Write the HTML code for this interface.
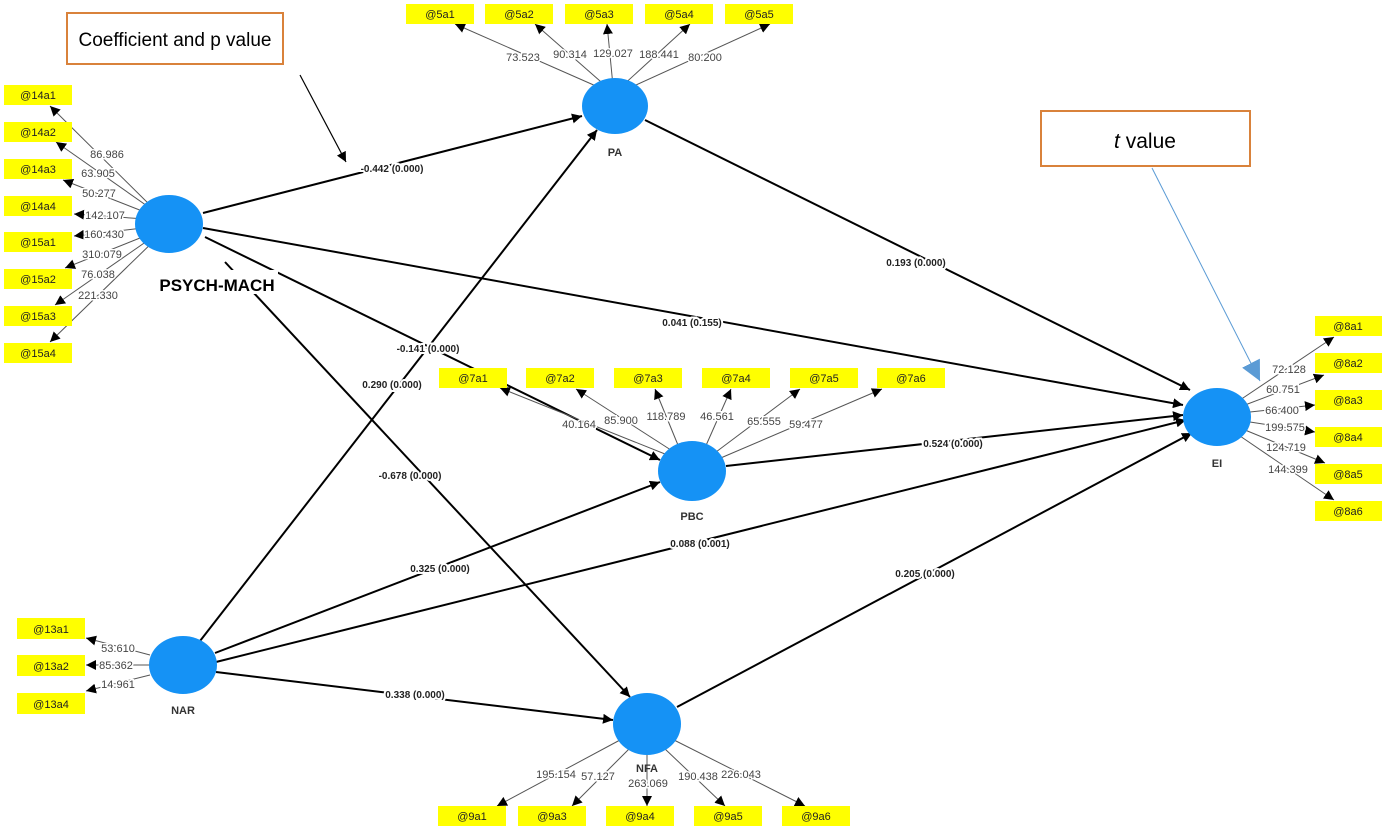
<!DOCTYPE html>
<html><head><meta charset="utf-8"><style>
html,body{margin:0;padding:0;background:#fff;}
svg{display:block;font-family:"Liberation Sans",Arial,sans-serif;}
.b{fill:#ffff00;}
.bt{font-size:11px;fill:#222;text-anchor:middle;}
.ind{stroke:#555;stroke-width:1;}
.il{font-size:11px;fill:#444;text-anchor:middle;paint-order:stroke;stroke:#fff;stroke-width:3px;}
.p{stroke:#000;stroke-width:2;}
.pl{font-size:10px;font-weight:bold;fill:#222;text-anchor:middle;paint-order:stroke;stroke:#fff;stroke-width:4px;}
.n{fill:#1592f5;}
.nl{font-size:11px;font-weight:bold;fill:#333;text-anchor:middle;}
</style></head><body>
<svg width="1382" height="827" viewBox="0 0 1382 827">
<defs>
<marker id="a" viewBox="0 0 10 10" refX="10" refY="5" markerWidth="10" markerHeight="10" markerUnits="userSpaceOnUse" orient="auto"><path d="M0,0L10,5L0,10z" fill="#000"/></marker>
<marker id="bl" viewBox="0 0 10 10" refX="10" refY="5" markerWidth="20" markerHeight="20" markerUnits="userSpaceOnUse" orient="auto"><path d="M0,0L10,5L0,10z" fill="#5b9bd5"/></marker>
</defs>

<!-- structural paths -->
<line class="p" x1="203" y1="213" x2="582" y2="116" marker-end="url(#a)"/>
<line class="p" x1="203" y1="228" x2="1183" y2="405" marker-end="url(#a)"/>
<line class="p" x1="205" y1="237" x2="660" y2="460" marker-end="url(#a)"/>
<line class="p" x1="225" y1="262" x2="630" y2="697" marker-end="url(#a)"/>
<line class="p" x1="645" y1="120" x2="1190" y2="390" marker-end="url(#a)"/>
<line class="p" x1="200" y1="641" x2="597" y2="130" marker-end="url(#a)"/>
<line class="p" x1="215" y1="653" x2="660" y2="482" marker-end="url(#a)"/>
<line class="p" x1="216" y1="662" x2="1186" y2="420" marker-end="url(#a)"/>
<line class="p" x1="216" y1="672" x2="613" y2="720" marker-end="url(#a)"/>
<line class="p" x1="726" y1="466" x2="1183" y2="415" marker-end="url(#a)"/>
<line class="p" x1="677" y1="707" x2="1192" y2="433" marker-end="url(#a)"/>

<text class="pl" x="392" y="172">-0.442 (0.000)</text>
<text class="pl" x="692" y="326">0.041 (0.155)</text>
<text class="pl" x="428" y="352">-0.141 (0.000)</text>
<text class="pl" x="410" y="479">-0.678 (0.000)</text>
<text class="pl" x="916" y="266">0.193 (0.000)</text>
<text class="pl" x="392" y="388">0.290 (0.000)</text>
<text class="pl" x="440" y="572">0.325 (0.000)</text>
<text class="pl" x="700" y="547">0.088 (0.001)</text>
<text class="pl" x="415" y="698">0.338 (0.000)</text>
<text class="pl" x="953" y="447">0.524 (0.000)</text>
<text class="pl" x="925" y="577">0.205 (0.000)</text>

<!-- PSYCH-MACH indicators -->
<g>
<line class="ind" x1="160" y1="215" x2="50" y2="106" marker-end="url(#a)"/>
<line class="ind" x1="160" y1="215" x2="56" y2="142" marker-end="url(#a)"/>
<line class="ind" x1="160" y1="218" x2="63" y2="180" marker-end="url(#a)"/>
<line class="ind" x1="160" y1="220" x2="74" y2="214" marker-end="url(#a)"/>
<line class="ind" x1="160" y1="226" x2="74" y2="236" marker-end="url(#a)"/>
<line class="ind" x1="160" y1="230" x2="65" y2="268" marker-end="url(#a)"/>
<line class="ind" x1="160" y1="232" x2="55" y2="305" marker-end="url(#a)"/>
<line class="ind" x1="160" y1="235" x2="50" y2="342" marker-end="url(#a)"/>
<text class="il" x="107" y="158">86.986</text>
<text class="il" x="98" y="177">63.905</text>
<text class="il" x="99" y="197">50.277</text>
<text class="il" x="105" y="219">142.107</text>
<text class="il" x="104" y="238">160.430</text>
<text class="il" x="102" y="258">310.079</text>
<text class="il" x="98" y="278">76.038</text>
<text class="il" x="98" y="299">221.330</text>
</g>
<g>
<rect class="b" x="4" y="85" width="68" height="20"/><text class="bt" x="38" y="99">@14a1</text>
<rect class="b" x="4" y="122" width="68" height="20"/><text class="bt" x="38" y="136">@14a2</text>
<rect class="b" x="4" y="159" width="68" height="20"/><text class="bt" x="38" y="173">@14a3</text>
<rect class="b" x="4" y="196" width="68" height="20"/><text class="bt" x="38" y="210">@14a4</text>
<rect class="b" x="4" y="232" width="68" height="20"/><text class="bt" x="38" y="246">@15a1</text>
<rect class="b" x="4" y="269" width="68" height="20"/><text class="bt" x="38" y="283">@15a2</text>
<rect class="b" x="4" y="306" width="68" height="20"/><text class="bt" x="38" y="320">@15a3</text>
<rect class="b" x="4" y="343" width="68" height="20"/><text class="bt" x="38" y="357">@15a4</text>
</g>

<!-- PA indicators -->
<line class="ind" x1="605" y1="90" x2="455" y2="24" marker-end="url(#a)"/>
<line class="ind" x1="608" y1="88" x2="535" y2="24" marker-end="url(#a)"/>
<line class="ind" x1="613" y1="86" x2="607" y2="24" marker-end="url(#a)"/>
<line class="ind" x1="620" y1="88" x2="690" y2="24" marker-end="url(#a)"/>
<line class="ind" x1="625" y1="90" x2="770" y2="24" marker-end="url(#a)"/>
<text class="il" x="523" y="61">73.523</text>
<text class="il" x="570" y="58">90.314</text>
<text class="il" x="613" y="57">129.027</text>
<text class="il" x="659" y="58">188.441</text>
<text class="il" x="705" y="61">80.200</text>
<rect class="b" x="406" y="4" width="68" height="20"/><text class="bt" x="440" y="18">@5a1</text>
<rect class="b" x="485" y="4" width="68" height="20"/><text class="bt" x="519" y="18">@5a2</text>
<rect class="b" x="565" y="4" width="68" height="20"/><text class="bt" x="599" y="18">@5a3</text>
<rect class="b" x="645" y="4" width="68" height="20"/><text class="bt" x="679" y="18">@5a4</text>
<rect class="b" x="725" y="4" width="68" height="20"/><text class="bt" x="759" y="18">@5a5</text>

<!-- PBC indicators -->
<line class="ind" x1="670" y1="456" x2="500" y2="388" marker-end="url(#a)"/>
<line class="ind" x1="674" y1="452" x2="576" y2="389" marker-end="url(#a)"/>
<line class="ind" x1="680" y1="450" x2="655" y2="389" marker-end="url(#a)"/>
<line class="ind" x1="704" y1="450" x2="731" y2="389" marker-end="url(#a)"/>
<line class="ind" x1="712" y1="455" x2="800" y2="389" marker-end="url(#a)"/>
<line class="ind" x1="716" y1="460" x2="882" y2="389" marker-end="url(#a)"/>
<text class="il" x="579" y="428">40.164</text>
<text class="il" x="621" y="424">85.900</text>
<text class="il" x="666" y="420">118.789</text>
<text class="il" x="717" y="420">46.561</text>
<text class="il" x="764" y="425">65.555</text>
<text class="il" x="806" y="428">59.477</text>
<rect class="b" x="439" y="368" width="68" height="20"/><text class="bt" x="473" y="382">@7a1</text>
<rect class="b" x="526" y="368" width="68" height="20"/><text class="bt" x="560" y="382">@7a2</text>
<rect class="b" x="614" y="368" width="68" height="20"/><text class="bt" x="648" y="382">@7a3</text>
<rect class="b" x="702" y="368" width="68" height="20"/><text class="bt" x="736" y="382">@7a4</text>
<rect class="b" x="790" y="368" width="68" height="20"/><text class="bt" x="824" y="382">@7a5</text>
<rect class="b" x="877" y="368" width="68" height="20"/><text class="bt" x="911" y="382">@7a6</text>

<!-- EI indicators -->
<line class="ind" x1="1240" y1="400" x2="1334" y2="337" marker-end="url(#a)"/>
<line class="ind" x1="1245" y1="405" x2="1324" y2="375" marker-end="url(#a)"/>
<line class="ind" x1="1250" y1="412" x2="1315" y2="405" marker-end="url(#a)"/>
<line class="ind" x1="1250" y1="422" x2="1315" y2="432" marker-end="url(#a)"/>
<line class="ind" x1="1245" y1="430" x2="1325" y2="463" marker-end="url(#a)"/>
<line class="ind" x1="1240" y1="436" x2="1334" y2="500" marker-end="url(#a)"/>
<text class="il" x="1289" y="373">72.128</text>
<text class="il" x="1283" y="393">60.751</text>
<text class="il" x="1282" y="414">66.400</text>
<text class="il" x="1285" y="431">199.575</text>
<text class="il" x="1286" y="451">124.719</text>
<text class="il" x="1288" y="473">144.399</text>
<rect class="b" x="1315" y="316" width="67" height="20"/><text class="bt" x="1348" y="330">@8a1</text>
<rect class="b" x="1315" y="353" width="67" height="20"/><text class="bt" x="1348" y="367">@8a2</text>
<rect class="b" x="1315" y="390" width="67" height="20"/><text class="bt" x="1348" y="404">@8a3</text>
<rect class="b" x="1315" y="427" width="67" height="20"/><text class="bt" x="1348" y="441">@8a4</text>
<rect class="b" x="1315" y="464" width="67" height="20"/><text class="bt" x="1348" y="478">@8a5</text>
<rect class="b" x="1315" y="501" width="67" height="20"/><text class="bt" x="1348" y="515">@8a6</text>

<!-- NAR indicators -->
<line class="ind" x1="150" y1="655" x2="86" y2="638" marker-end="url(#a)"/>
<line class="ind" x1="150" y1="665" x2="86" y2="665" marker-end="url(#a)"/>
<line class="ind" x1="150" y1="675" x2="86" y2="691" marker-end="url(#a)"/>
<text class="il" x="118" y="652">53.610</text>
<text class="il" x="116" y="669">85.362</text>
<text class="il" x="118" y="688">14.961</text>
<rect class="b" x="17" y="618" width="68" height="21"/><text class="bt" x="51" y="633">@13a1</text>
<rect class="b" x="17" y="655" width="68" height="21"/><text class="bt" x="51" y="670">@13a2</text>
<rect class="b" x="17" y="693" width="68" height="21"/><text class="bt" x="51" y="708">@13a4</text>

<!-- NFA indicators -->
<line class="ind" x1="620" y1="740" x2="497" y2="806" marker-end="url(#a)"/>
<line class="ind" x1="630" y1="748" x2="572" y2="806" marker-end="url(#a)"/>
<line class="ind" x1="647" y1="752" x2="647" y2="806" marker-end="url(#a)"/>
<line class="ind" x1="664" y1="748" x2="725" y2="806" marker-end="url(#a)"/>
<line class="ind" x1="674" y1="740" x2="805" y2="806" marker-end="url(#a)"/>
<text class="il" x="556" y="778">195.154</text>
<text class="il" x="598" y="780">57.127</text>
<text class="il" x="648" y="787">263.069</text>
<text class="il" x="698" y="780">190.438</text>
<text class="il" x="741" y="778">226.043</text>
<rect class="b" x="438" y="806" width="68" height="20"/><text class="bt" x="472" y="820">@9a1</text>
<rect class="b" x="518" y="806" width="68" height="20"/><text class="bt" x="552" y="820">@9a3</text>
<rect class="b" x="606" y="806" width="68" height="20"/><text class="bt" x="640" y="820">@9a4</text>
<rect class="b" x="694" y="806" width="68" height="20"/><text class="bt" x="728" y="820">@9a5</text>
<rect class="b" x="782" y="806" width="68" height="20"/><text class="bt" x="816" y="820">@9a6</text>

<!-- nodes -->
<ellipse class="n" cx="169" cy="224" rx="34" ry="29"/>
<ellipse class="n" cx="615" cy="106" rx="33" ry="28"/>
<ellipse class="n" cx="692" cy="471" rx="34" ry="30"/>
<ellipse class="n" cx="1217" cy="417" rx="34" ry="29"/>
<ellipse class="n" cx="183" cy="665" rx="34" ry="29"/>
<ellipse class="n" cx="647" cy="724" rx="34" ry="31"/>

<rect x="158" y="270" width="120" height="24" fill="#fff"/>
<text x="217" y="291" style="font-size:17px;font-weight:bold;fill:#000;text-anchor:middle;">PSYCH-MACH</text>
<text class="nl" x="615" y="156">PA</text>
<text class="nl" x="692" y="520">PBC</text>
<text class="nl" x="1217" y="467">EI</text>
<text class="nl" x="183" y="714">NAR</text>
<text class="nl" x="647" y="772">NFA</text>

<!-- callouts -->
<rect x="67" y="13" width="216" height="51" fill="#fff" stroke="#d9823b" stroke-width="2"/>
<text x="175" y="46" style="font-size:19px;fill:#000;text-anchor:middle;">Coefficient and p value</text>
<line x1="300" y1="75" x2="346" y2="162" stroke="#000" stroke-width="1.2" marker-end="url(#a)"/>
<rect x="1041" y="111" width="209" height="55" fill="#fff" stroke="#d9823b" stroke-width="2"/>
<text x="1145" y="148" style="font-size:21px;fill:#000;text-anchor:middle;"><tspan font-style="italic">t</tspan> value</text>
<line x1="1152" y1="168" x2="1260" y2="381" stroke="#5b9bd5" stroke-width="1" marker-end="url(#bl)"/>
</svg>
</body></html>
